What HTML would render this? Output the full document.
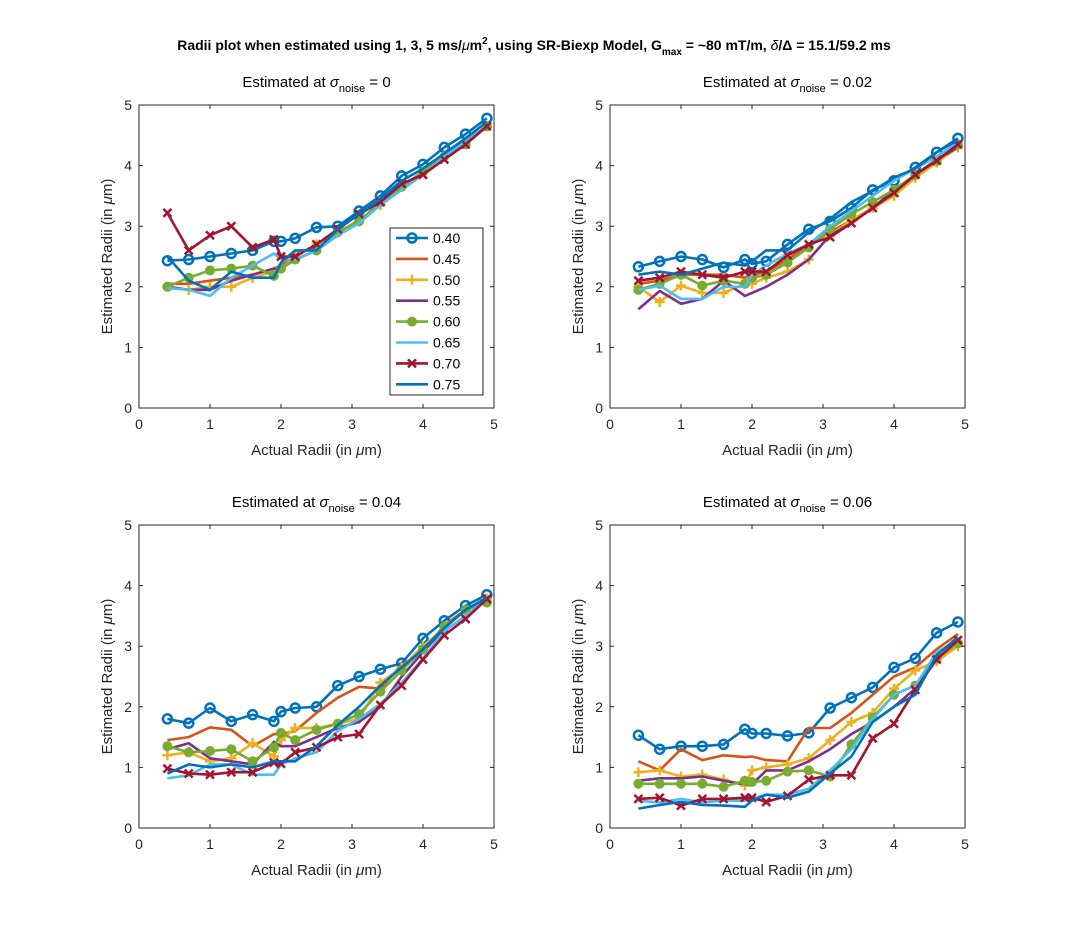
<!DOCTYPE html>
<html><head><meta charset="utf-8"><style>
body{margin:0;background:#fff;}
svg{display:block;font-family:"Liberation Sans",Arial,sans-serif;}
</style></head><body>
<svg id="fig" width="1069" height="926" viewBox="0 0 1069 926" xmlns="http://www.w3.org/2000/svg">
<rect width="1069" height="926" fill="#fff"/>
<text x="534" y="50" text-anchor="middle" font-size="14" font-weight="bold">Radii plot when estimated using 1, 3, 5 ms/<tspan font-style="italic" font-weight="normal">μ</tspan>m<tspan dy="-6" font-size="10">2</tspan><tspan dy="6">, using SR-Biexp Model, G</tspan><tspan dy="5" font-size="10">max</tspan><tspan dy="-5"> = ~80 mT/m, </tspan><tspan font-style="italic" font-weight="normal">δ</tspan>/Δ = 15.1/59.2 ms</text>
</svg>
<script>
const xVals=[0.4,0.7,1.0,1.3,1.6,1.9,2.0,2.2,2.5,2.8,3.1,3.4,3.7,4.0,4.3,4.6,4.9];
const seriesNames=["0.40","0.45","0.50","0.55","0.60","0.65","0.70","0.75"];
const xTicks=[0,1,2,3,4,5];
const yTicks=[0,1,2,3,4,5];
const noiseLabels=["0","0.02","0.04","0.06"];
const p1=[
[2.43,2.45,2.5,2.55,2.6,2.75,2.75,2.8,2.98,3.0,3.25,3.5,3.83,4.02,4.3,4.52,4.78],
[2.05,2.05,2.1,2.15,2.2,2.3,2.35,2.5,2.7,2.9,3.1,3.35,3.65,3.9,4.15,4.4,4.65],
[2.0,1.95,2.0,2.0,2.15,2.25,2.3,2.5,2.7,2.9,3.1,3.35,3.65,3.9,4.15,4.4,4.65],
[2.0,1.95,1.95,2.1,2.2,2.3,2.3,2.45,2.6,2.85,3.1,3.35,3.65,3.9,4.15,4.4,4.65],
[2.0,2.15,2.27,2.3,2.35,2.18,2.3,2.45,2.6,2.9,3.08,3.4,3.65,3.9,4.15,4.35,4.65],
[1.98,1.95,1.85,2.15,2.35,2.55,2.45,2.45,2.6,2.85,3.05,3.35,3.6,3.85,4.15,4.4,4.65],
[3.22,2.6,2.85,3.0,2.65,2.78,2.5,2.5,2.7,2.95,3.2,3.4,3.7,3.85,4.1,4.35,4.65],
[2.5,2.1,1.95,2.25,2.15,2.15,2.4,2.6,2.6,2.95,3.2,3.45,3.75,3.95,4.2,4.45,4.72]];
const p2=[
[2.33,2.42,2.5,2.45,2.32,2.45,2.38,2.42,2.7,2.95,3.08,3.3,3.6,3.75,3.97,4.22,4.45],
[2.05,2.1,2.2,2.2,2.2,2.15,2.2,2.25,2.45,2.7,2.9,3.1,3.3,3.55,3.8,4.05,4.35],
[2.0,1.75,2.02,1.9,1.9,2.05,2.05,2.15,2.25,2.45,2.85,3.1,3.3,3.5,3.8,4.05,4.3],
[1.63,1.93,1.72,1.8,2.1,1.85,1.9,2.0,2.2,2.45,2.85,3.05,3.3,3.6,3.85,4.1,4.3],
[1.95,2.05,2.2,2.02,2.1,2.05,2.15,2.2,2.4,2.65,2.95,3.2,3.4,3.6,3.85,4.08,4.35],
[1.95,2.02,1.8,1.8,2.0,2.0,2.2,2.35,2.55,2.7,3.0,3.25,3.5,3.75,3.95,4.15,4.38],
[2.1,2.15,2.25,2.2,2.15,2.25,2.25,2.25,2.52,2.7,2.82,3.05,3.3,3.55,3.85,4.08,4.35],
[2.2,2.25,2.2,2.3,2.4,2.35,2.42,2.6,2.6,2.9,3.12,3.4,3.58,3.8,3.95,4.22,4.42]];
const p3=[
[1.8,1.73,1.98,1.76,1.87,1.76,1.92,1.98,2.0,2.35,2.5,2.62,2.72,3.13,3.42,3.67,3.85],
[1.45,1.5,1.66,1.62,1.35,1.55,1.55,1.6,1.9,2.15,2.33,2.3,2.7,2.9,3.35,3.6,3.8],
[1.2,1.25,1.1,1.15,1.4,1.18,1.45,1.65,1.65,1.72,1.8,2.4,2.65,3.0,3.3,3.6,3.78],
[1.3,1.4,1.15,1.1,1.05,1.42,1.35,1.35,1.5,1.65,1.75,2.0,2.5,2.9,3.3,3.6,3.78],
[1.35,1.25,1.27,1.3,1.1,1.33,1.57,1.45,1.62,1.72,1.88,2.25,2.6,2.95,3.32,3.6,3.72],
[0.82,0.87,1.05,1.05,0.88,0.88,1.05,1.15,1.25,1.6,1.8,2.05,2.4,2.8,3.25,3.5,3.78],
[0.98,0.9,0.88,0.92,0.92,1.08,1.06,1.25,1.33,1.5,1.55,2.03,2.35,2.78,3.18,3.45,3.78],
[0.9,1.05,1.0,1.05,1.0,1.1,1.1,1.1,1.35,1.7,2.0,2.35,2.65,2.95,3.3,3.6,3.8]];
const p4=[
[1.53,1.3,1.35,1.35,1.38,1.63,1.56,1.56,1.52,1.57,1.98,2.15,2.32,2.65,2.8,3.22,3.4],
[1.1,0.95,1.3,1.12,1.2,1.17,1.18,1.12,1.1,1.65,1.65,1.9,2.2,2.5,2.65,2.95,3.2],
[0.92,0.95,0.85,0.88,0.8,0.7,0.95,1.0,1.05,1.15,1.45,1.75,1.9,2.3,2.6,2.75,3.0],
[0.78,0.82,0.82,0.85,0.78,0.72,0.72,0.95,0.95,1.1,1.3,1.55,1.75,2.0,2.3,2.8,3.05],
[0.73,0.73,0.73,0.73,0.68,0.78,0.76,0.78,0.93,0.95,0.85,1.38,1.82,2.2,2.35,2.8,3.05],
[0.45,0.42,0.48,0.42,0.45,0.45,0.48,0.55,0.55,0.65,0.95,1.3,1.8,2.2,2.35,2.9,3.1],
[0.48,0.5,0.37,0.48,0.48,0.5,0.5,0.43,0.53,0.8,0.87,0.87,1.48,1.72,2.28,2.78,3.1],
[0.32,0.38,0.43,0.38,0.37,0.35,0.45,0.55,0.5,0.6,0.9,1.18,1.75,2.0,2.2,2.85,3.15]];
const panelsData=[p1,p2,p3,p4];

const NS="http://www.w3.org/2000/svg";
const svg=document.getElementById("fig");
const colors=["#0072BD","#D95319","#EDB120","#7E2F8E","#77AC30","#4DBEEE","#A2142F","#0072BD"];
const markers=["o",null,"+",null,"dot",null,"x",null];
const boxes=[{l:139,r:494,t:105,b:408},{l:610,r:965,t:105,b:408},{l:139,r:494,t:525,b:828},{l:610,r:965,t:525,b:828}];
function mk(tag,attrs,parent){const e=document.createElementNS(NS,tag);for(const k in attrs)e.setAttribute(k,attrs[k]);(parent||svg).appendChild(e);return e;}
function drawMarker(g,type,x,y,c){
  if(type==="o")mk("circle",{cx:x,cy:y,r:4.5,fill:"none",stroke:c,"stroke-width":2.5},g);
  else if(type==="dot")mk("circle",{cx:x,cy:y,r:4.5,fill:c,stroke:c,"stroke-width":1},g);
  else if(type==="+")mk("path",{d:`M${x-5} ${y}H${x+5}M${x} ${y-5}V${y+5}`,stroke:c,"stroke-width":2.5},g);
  else if(type==="x")mk("path",{d:`M${x-4} ${y-4}L${x+4} ${y+4}M${x-4} ${y+4}L${x+4} ${y-4}`,stroke:c,"stroke-width":2.5},g);
}
boxes.forEach((B,pi)=>{
  const sx=v=>B.l+(v-0)/5*(B.r-B.l);
  const sy=v=>B.b-(v-0)/5*(B.b-B.t);
  const ax=mk("g",{});
  
  
  const clip=mk("clipPath",{id:"c"+pi},ax);
  mk("rect",{x:B.l,y:B.t,width:B.r-B.l,height:B.b-B.t},clip);
  const dg=mk("g",{"clip-path":`url(#c${pi})`},ax);
  panelsData[pi].forEach((ys,si)=>{
    const g=mk("g",{},dg);
    
    
    const pts=ys.map((v,i)=>sx(xVals[i]).toFixed(1)+","+sy(v).toFixed(1)).join(" ");
    mk("polyline",{points:pts,fill:"none",stroke:colors[si],"stroke-width":2.6,"stroke-linejoin":"round"},g);
    if(markers[si])ys.forEach((v,i)=>drawMarker(g,markers[si],sx(xVals[i]),sy(v),colors[si]));
  });
  mk("rect",{x:B.l,y:B.t,width:B.r-B.l,height:B.b-B.t,fill:"none",stroke:"#262626","stroke-width":1},ax);
  xTicks.forEach(t=>{const x=sx(t);
    mk("path",{d:`M${x} ${B.b}V${B.b-4}M${x} ${B.t}V${B.t+4}`,stroke:"#262626"},ax);
    const tx=mk("text",{x:x,y:B.b+21,"text-anchor":"middle","font-size":14,fill:"#262626"},ax);tx.textContent=t;
    
    });
  yTicks.forEach(t=>{const y=sy(t);
    mk("path",{d:`M${B.l} ${y}H${B.l+4}M${B.r} ${y}H${B.r-4}`,stroke:"#262626"},ax);
    const tx=mk("text",{x:B.l-7,y:y+5,"text-anchor":"end","font-size":14,fill:"#262626"},ax);tx.textContent=t;
    
    });
  const cx=(B.l+B.r)/2;
  const xl=mk("text",{x:cx,y:B.b+47,"text-anchor":"middle","font-size":15,fill:"#262626"},ax);
  xl.innerHTML='Actual Radii (in <tspan font-style="italic">μ</tspan>m)';
  
  
  const yl=mk("text",{x:0,y:0,transform:`translate(${B.l-27},${(B.t+B.b)/2}) rotate(-90)`,"text-anchor":"middle","font-size":15,fill:"#262626"},ax);
  yl.innerHTML='Estimated Radii (in <tspan font-style="italic">μ</tspan>m)';
  
  
  const tt=mk("text",{x:cx,y:B.t-18,"text-anchor":"middle","font-size":15,fill:"#000"},ax);
  tt.innerHTML='Estimated at <tspan font-style="italic">σ</tspan><tspan dy="5" font-size="11">noise</tspan><tspan dy="-5"> = '+noiseLabels[pi]+'</tspan>';
  
  
});
// legend
const lg=mk("g",{});


mk("rect",{x:390,y:228,width:93,height:167,fill:"#fff",stroke:"#262626","stroke-width":1},lg);
seriesNames.forEach((n,i)=>{
  const y=238+i*20.9;
  const e=mk("g",{},lg);
  
  
  mk("line",{x1:396,y1:y,x2:428,y2:y,stroke:colors[i],"stroke-width":2.6},e);
  if(markers[i])drawMarker(e,markers[i],412,y,colors[i]);
  const t=mk("text",{x:433,y:y+5,"font-size":14,fill:"#000"},e);t.textContent=n;
});
</script>
</body></html>
